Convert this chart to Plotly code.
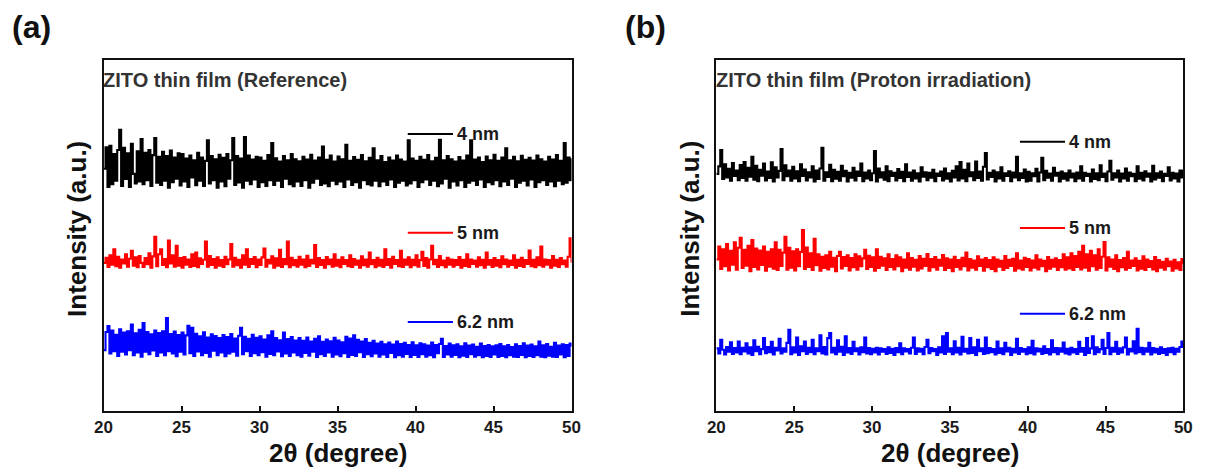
import plotly.graph_objects as go

# ---------------- data (2theta scan, 0.125 deg step) ----------------
THETA_START = 20.0
THETA_STEP = 0.125
N_POINTS = 241
theta = [THETA_START + THETA_STEP * i for i in range(N_POINTS)]

ref_4nm = [
    705, 768, 652, 772, 660, 748, 670, 760, 819, 655, 766, 675, 750, 652, 778, 690, 662, 756, 668, 792,
    660, 752, 672, 760, 655, 745, 795, 664, 740, 658, 755, 670, 742, 650, 758, 666, 738, 676, 750, 656,
    748, 668, 735, 652, 744, 680, 730, 657, 752, 670, 738, 655, 728, 788, 662, 742, 672, 733, 650, 746,
    668, 737, 654, 748, 676, 730, 795, 658, 742, 665, 735, 650, 798, 670, 744, 660, 732, 674, 740, 652,
    738, 666, 728, 655, 745, 672, 780, 658, 736, 670, 726, 652, 742, 676, 730, 660, 748, 654, 733, 668,
    727, 655, 740, 672, 732, 650, 746, 664, 729, 676, 738, 658, 770, 662, 731, 654, 744, 670, 726, 660,
    741, 668, 733, 652, 775, 674, 728, 658, 739, 666, 731, 650, 745, 672, 727, 660, 737, 656, 765, 670,
    730, 654, 742, 668, 725, 658, 738, 674, 729, 652, 744, 664, 732, 670, 726, 656, 788, 662, 735, 672,
    728, 652, 740, 666, 731, 674, 745, 658, 727, 670, 737, 654, 790, 662, 730, 676, 742, 650, 733, 668,
    726, 656, 739, 672, 729, 652, 744, 664, 788, 670, 732, 658, 738, 674, 725, 652, 741, 666, 730, 660,
    746, 672, 728, 654, 738, 668, 765, 658, 730, 676, 740, 652, 727, 664, 743, 670, 731, 656, 737, 674,
    729, 652, 744, 666, 733, 672, 726, 658, 740, 668, 732, 654, 745, 670, 728, 660, 780, 664, 738, 672,
    736,
]

ref_5nm = [
    430, 445, 418, 452, 425, 470, 420, 448, 416, 440, 428, 455, 419, 442, 465, 422, 446, 417, 450, 430,
    418, 444, 426, 458, 416, 449, 506, 420, 455, 470, 424, 441, 417, 495, 428, 452, 419, 480, 422, 444,
    416, 447, 425, 440, 418, 455, 421, 460, 417, 443, 427, 439, 492, 419, 450, 424, 441, 416, 446, 422,
    438, 418, 448, 426, 440, 485, 419, 445, 423, 439, 416, 452, 425, 470, 418, 441, 427, 447, 417, 440,
    424, 446, 472, 419, 439, 428, 449, 416, 443, 422, 468, 418, 441, 426, 492, 417, 445, 423, 438, 419,
    448, 425, 440, 417, 451, 421, 439, 428, 482, 418, 444, 424, 438, 416, 447, 426, 440, 419, 455, 422,
    439, 417, 446, 427, 438, 420, 452, 418, 441, 425, 437, 416, 449, 423, 440, 419, 460, 426, 438, 417,
    445, 422, 439, 418, 470, 424, 441, 416, 448, 427, 438, 420, 465, 418, 440, 425, 446, 417, 439, 423,
    452, 419, 438, 462, 421, 444, 416, 440, 480, 426, 439, 418, 450, 423, 437, 417, 445, 425, 440, 419,
    438, 424, 447, 416, 439, 421, 455, 418, 440, 427, 437, 419, 446, 423, 439, 416, 460, 425, 438, 418,
    444, 422, 438, 417, 449, 426, 440, 419, 437, 424, 452, 416, 439, 421, 445, 418, 438, 427, 466, 420,
    439, 417, 446, 423, 478, 419, 440, 425, 438, 416, 450, 422, 439, 418, 444, 426, 437, 419, 448, 502,
    430,
]

ref_62nm = [
    175, 228, 245, 165, 232, 172, 220, 158, 236, 170, 226, 162, 230, 175, 250, 160, 224, 168, 234, 156,
    254, 170, 228, 163, 221, 174, 232, 158, 225, 168, 230, 160, 269, 172, 222, 165, 229, 157, 219, 170,
    226, 162, 218, 246, 166, 240, 158, 223, 171, 215, 160, 227, 167, 212, 156, 221, 173, 216, 160, 210,
    168, 219, 157, 213, 165, 222, 170, 209, 159, 217, 240, 163, 214, 172, 208, 158, 220, 166, 211, 160,
    215, 169, 206, 156, 218, 164, 230, 160, 210, 171, 204, 157, 226, 165, 207, 158, 213, 168, 203, 160,
    210, 156, 202, 167, 212, 159, 200, 170, 208, 155, 215, 163, 199, 158, 206, 168, 201, 156, 211, 162,
    203, 157, 198, 166, 214, 155, 209, 161, 218, 158, 205, 169, 200, 155, 207, 163, 196, 157, 202, 165,
    194, 156, 199, 162, 192, 155, 197, 167, 191, 154, 200, 160, 193, 156, 196, 164, 190, 155, 198, 161,
    189, 155, 195, 163, 192, 156, 188, 160, 197, 154, 190, 166, 193, 208, 155, 187, 162, 194, 156, 189,
    161, 192, 154, 186, 159, 195, 155, 188, 163, 191, 156, 185, 160, 194, 154, 187, 158, 190, 155, 186,
    162, 189, 155, 193, 158, 186, 154, 190, 160, 184, 156, 192, 155, 187, 161, 195, 154, 188, 158, 191,
    155, 186, 160, 200, 156, 189, 154, 193, 159, 185, 156, 196, 155, 188, 162, 192, 154, 190, 158, 194,
    185,
]

pro_4nm = [
    690, 712, 760, 675, 718, 680, 705, 670, 722, 684, 700, 672, 716, 678, 725, 670, 708, 682, 740, 673,
    714, 669, 702, 685, 720, 671, 697, 678, 724, 668, 709, 680, 699, 763, 672, 715, 683, 700, 670, 711,
    677, 698, 669, 718, 684, 703, 671, 695, 680, 712, 668, 700, 675, 706, 766, 670, 695, 681, 717, 669,
    702, 676, 696, 670, 714, 683, 699, 668, 693, 679, 708, 671, 697, 684, 720, 669, 694, 677, 700, 672,
    692, 757, 668, 706, 680, 695, 673, 712, 669, 698, 684, 693, 671, 704, 678, 696, 669, 718, 681, 694,
    670, 700, 677, 692, 668, 709, 682, 695, 672, 693, 679, 702, 669, 691, 684, 697, 671, 706, 676, 692,
    668, 699, 680, 712, 671, 725, 677, 702, 669, 720, 683, 695, 672, 726, 678, 697, 670, 711, 751, 674,
    693, 681, 700, 668, 695, 677, 709, 670, 692, 684, 698, 669, 694, 680, 740, 672, 692, 678, 703, 668,
    696, 670, 692, 683, 705, 668, 694, 737, 672, 699, 679, 691, 670, 708, 685, 693, 668, 697, 676, 692,
    671, 700, 680, 691, 669, 694, 677, 712, 670, 693, 684, 690, 668, 703, 675, 692, 672, 715, 681, 691,
    669, 697, 728, 673, 692, 680, 700, 668, 691, 677, 706, 670, 694, 683, 690, 669, 712, 676, 693, 671,
    698, 682, 691, 668, 714, 674, 692, 679, 697, 669, 690, 684, 709, 671, 693, 677, 691, 668, 700, 680,
    702,
]

pro_5nm = [
    440, 478, 412, 470, 420, 485, 408, 465, 425, 490, 410, 474, 503, 415, 468, 422, 480, 406, 497, 418,
    472, 411, 466, 424, 478, 407, 462, 419, 470, 413, 490, 409, 468, 421, 460, 506, 410, 474, 416, 464,
    408, 470, 420, 462, 526, 412, 475, 418, 458, 409, 500, 423, 455, 407, 448, 415, 452, 411, 462, 419,
    445, 406, 450, 462, 414, 447, 421, 452, 408, 444, 417, 455, 410, 449, 420, 443, 468, 412, 451, 418,
    446, 407, 470, 415, 448, 422, 443, 409, 455, 418, 441, 411, 452, 420, 446, 406, 440, 416, 458, 410,
    444, 419, 439, 408, 450, 414, 442, 421, 456, 407, 441, 417, 447, 410, 439, 422, 453, 409, 443, 415,
    440, 406, 448, 418, 438, 411, 445, 420, 460, 408, 441, 416, 437, 410, 449, 421, 440, 407, 444, 417,
    438, 412, 446, 406, 440, 419, 436, 409, 450, 415, 439, 421, 442, 407, 458, 414, 437, 410, 445, 418,
    441, 408, 437, 416, 452, 411, 440, 420, 436, 406, 447, 413, 439, 419, 443, 409, 438, 417, 455, 410,
    446, 414, 458, 409, 450, 418, 462, 411, 480, 416, 455, 407, 465, 420, 452, 410, 470, 415, 448, 491,
    408, 446, 419, 440, 412, 452, 406, 438, 417, 444, 410, 462, 415, 437, 421, 443, 408, 436, 413, 449,
    409, 440, 418, 435, 411, 447, 406, 438, 416, 433, 410, 442, 420, 434, 407, 439, 414, 432, 409, 441,
    426,
]

pro_62nm = [
    180, 165, 205, 176, 162, 184, 170, 198, 164, 181, 168, 200, 163, 182, 171, 195, 165, 183, 161, 204,
    172, 185, 163, 178, 210, 166, 184, 169, 199, 162, 182, 174, 208, 165, 180, 170, 196, 234, 163, 183,
    168, 212, 161, 186, 172, 200, 164, 182, 169, 205, 163, 180, 172, 218, 165, 184, 162, 210, 225, 168,
    182, 163, 204, 170, 185, 161, 215, 168, 181, 164, 199, 172, 180, 162, 183, 169, 212, 165, 181, 163,
    179, 168, 182, 162, 180, 170, 178, 164, 183, 167, 179, 161, 181, 169, 195, 163, 180, 171, 178, 165,
    182, 212, 164, 180, 170, 179, 163, 184, 205, 166, 181, 172, 178, 161, 183, 168, 215, 164, 225, 170,
    180, 163, 201, 168, 182, 162, 214, 170, 179, 165, 210, 167, 183, 161, 205, 172, 180, 164, 212, 166,
    181, 169, 178, 162, 200, 167, 180, 163, 196, 171, 182, 161, 179, 168, 208, 164, 181, 170, 178, 163,
    183, 166, 202, 162, 180, 171, 179, 164, 186, 167, 178, 162, 204, 169, 181, 163, 180, 170, 197, 165,
    179, 162, 182, 168, 178, 164, 199, 170, 181, 161, 210, 167, 180, 215, 163, 183, 169, 178, 205, 164,
    181, 225, 163, 182, 170, 199, 164, 180, 168, 183, 212, 162, 179, 171, 201, 165, 237, 169, 182, 163,
    180, 170, 196, 162, 181, 168, 179, 164, 183, 167, 178, 161, 180, 169, 182, 163, 179, 170, 184, 200,
    181,
]

series_labels = ["4 nm", "5 nm", "6.2 nm"]
panel_titles = ["ZITO thin film (Reference)", "ZITO thin film (Proton irradiation)"]
panel_tags = ["(a)", "(b)"]
x_ticks = [20, 25, 30, 35, 40, 45, 50]

# ---------------- styling ----------------
COLORS = ["#000000", "#ff0000", "#0000ff"]
FONT = "Liberation Sans, Arial, sans-serif"
LW = 2.1

fig = go.Figure()

panels = [
    ("x", "y", [ref_4nm, ref_5nm, ref_62nm]),
    ("x2", "y2", [pro_4nm, pro_5nm, pro_62nm]),
]
for xa, ya, data in panels:
    for lbl, vals, col in zip(series_labels, data, COLORS):
        fig.add_trace(go.Scatter(
            x=theta, y=vals, mode="lines", name=lbl,
            line=dict(color=col, width=LW, shape="hv"),
            xaxis=xa, yaxis=ya, showlegend=False, hoverinfo="skip",
        ))

axis_common = dict(
    range=[20, 50], tickmode="array", tickvals=x_ticks,
    ticks="inside", ticklen=5, tickwidth=1.8, tickcolor="#111",
    showline=True, linewidth=2, linecolor="#111", mirror=True,
    showgrid=False, zeroline=False,
    tickfont=dict(family=FONT, size=17, color="#1a1a1a", weight="bold"),
)
yaxis_common = dict(
    range=[-3, 1023], showticklabels=False, ticks="",
    showline=True, linewidth=2, linecolor="#111", mirror=True,
    showgrid=False, zeroline=False,
)

Y0, Y1 = 1 - 411 / 475, 1 - 60 / 475
fig.update_layout(
    width=1215, height=475,
    margin=dict(l=0, r=0, t=0, b=0),
    paper_bgcolor="white", plot_bgcolor="white",
    xaxis=dict(domain=[96 / 1215, 571 / 1215], anchor="y", **axis_common),
    yaxis=dict(domain=[Y0, Y1], anchor="x", **yaxis_common),
    xaxis2=dict(domain=[718 / 1215, 1192 / 1215], anchor="y2", **axis_common),
    yaxis2=dict(domain=[Y0, Y1], anchor="x2", **yaxis_common),
)

# legend-like samples inside each panel
legend_y = [[807, 518, 257], [784, 532, 281]]
LEG_X0, LEG_X1, LEG_TX = 39.5, 42.4, 42.5
for p, (xa, ya, _) in enumerate(panels):
    for k, (lbl, col) in enumerate(zip(series_labels, COLORS)):
        yy = legend_y[p][k]
        fig.add_shape(type="line", xref=xa, yref=ya, x0=LEG_X0, x1=LEG_X1, y0=yy, y1=yy,
                      line=dict(color=col, width=2))
        fig.add_annotation(x=LEG_TX, y=yy, xref=xa, yref=ya, text=lbl, showarrow=False,
                           xanchor="left", yanchor="middle",
                           font=dict(family=FONT, size=18, color="#1a1a1a", weight="bold"))

# panel texts
panel_left = [96, 718]
panel_center = [333.5, 955]
for p in range(2):
    xa = panels[p][0]
    fig.add_annotation(x=-0.005, y=(411 - 80) / 351, xref=f"{xa} domain", yref=f"{panels[p][1]} domain",
                       text=panel_titles[p], showarrow=False, xanchor="left", yanchor="middle",
                       font=dict(family=FONT, size=20, color="#333333", weight="bold"))
    fig.add_annotation(x=(panel_left[p] - 95) / 1215, y=1 - 27 / 475, xref="paper", yref="paper",
                       text=panel_tags[p], showarrow=False, xanchor="left", yanchor="middle",
                       font=dict(family=FONT, size=32, color="#111", weight="bold"))
    fig.add_annotation(x=(panel_left[p] - 27) / 1215, y=1 - 229 / 475, xref="paper", yref="paper",
                       text="Intensity (a.u.)", textangle=-90, showarrow=False,
                       xanchor="center", yanchor="middle",
                       font=dict(family=FONT, size=26, color="#111", weight="bold"))
    fig.add_annotation(x=panel_center[p] / 1215, y=1 - 453 / 475, xref="paper", yref="paper",
                       text="2θ (degree)", showarrow=False, xanchor="center", yanchor="middle",
                       font=dict(family=FONT, size=26, color="#111", weight="bold"))

fig.write_html("out.html")
